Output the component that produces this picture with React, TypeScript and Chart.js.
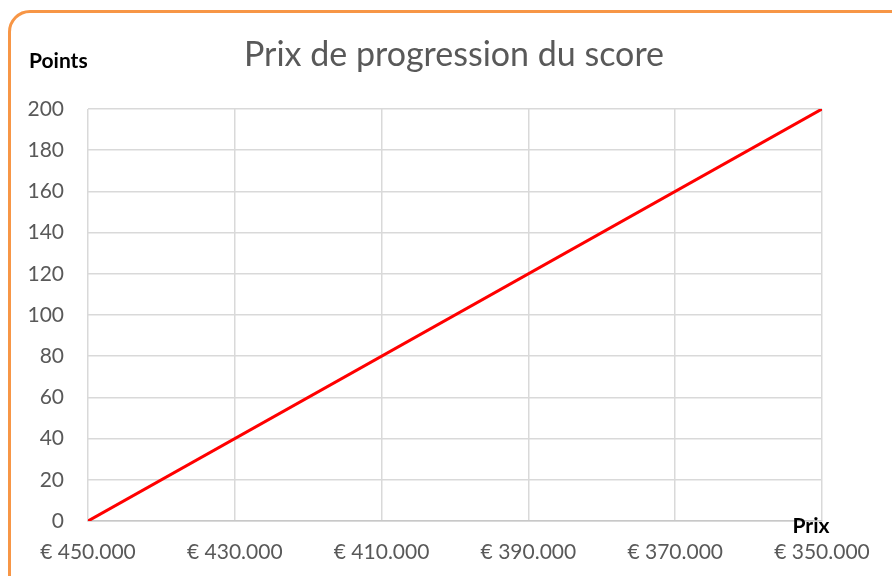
import React, { useEffect, useRef } from "react";
import { Chart, registerables } from "chart.js";

Chart.register(...registerables);

const title = "Prix de progression du score";
const yAxisLabel = "Points";
const xAxisLabel = "Prix";
const prices = [450000, 350000];
const points = [0, 200];

const FONT = "Lato, 'Open Sans', sans-serif";

function formatEuro(v: number): string {
  const s = Math.round(v).toString().replace(/\B(?=(\d{3})+(?!\d))/g, ".");
  return "€ " + s;
}

const labelsPlugin = {
  id: "labelsPlugin",
  afterDraw(chart: any) {
    const ctx = chart.ctx;
    const area = chart.chartArea;
    ctx.save();
    ctx.fillStyle = "#595959";
    ctx.font = `34px ${FONT}`;
    ctx.textAlign = "center";
    ctx.textBaseline = "middle";
    ctx.fillText(title, 454, 55);
    ctx.fillStyle = "#000000";
    ctx.font = `bold 21px ${FONT}`;
    ctx.textAlign = "left";
    ctx.fillText(yAxisLabel, 29, 61);
    ctx.textAlign = "center";
    ctx.fillText(xAxisLabel, area.right - 11, 526);
    ctx.restore();
  },
};

export default function App() {
  const ref = useRef<HTMLCanvasElement>(null);
  useEffect(() => {
    if (!ref.current) return;
    const chart = new Chart(ref.current, {
      type: "line",
      data: {
        datasets: [
          {
            data: prices.map((p, i) => ({ x: p, y: points[i] })),
            borderColor: "#ff0000",
            borderWidth: 3,
            pointRadius: 0,
            fill: false,
            tension: 0,
          },
        ],
      },
      options: {
        animation: false,
        responsive: false,
        maintainAspectRatio: false,
        layout: { padding: { left: 0, right: 70, top: 109, bottom: 0 } },
        plugins: { legend: { display: false }, title: { display: false }, tooltip: { enabled: false } },
        scales: {
          x: {
            type: "linear",
            reverse: true,
            min: 350000,
            max: 450000,
            afterFit: (s: any) => { s.height = 55; },
            grid: { color: "#d9d9d9", lineWidth: 1.5, drawTicks: false },
            border: { color: "#c8c8c8", width: 1.5 },
            ticks: {
              stepSize: 20000,
              padding: 19,
              color: "#595959",
              font: { family: FONT, size: 21 },
              maxRotation: 0,
              callback: (v: any) => formatEuro(Number(v)),
            },
          },
          y: {
            min: 0,
            max: 200,
            afterFit: (s: any) => { s.width = 88; },
            grid: { color: "#d9d9d9", lineWidth: 1.5, drawTicks: false },
            border: { display: false },
            ticks: {
              stepSize: 20,
              padding: 24,
              color: "#595959",
              font: { family: FONT, size: 21 },
            },
          },
        },
      },
      plugins: [labelsPlugin],
    } as any);
    return () => chart.destroy();
  }, []);

  return (
    <div style={{ position: "absolute", left: 0, top: 0, width: 892, height: 576, overflow: "hidden", background: "#fff" }}>
      <div
        style={{
          position: "absolute",
          left: 8,
          top: 10,
          width: 920,
          height: 620,
          border: "3px solid #f79646",
          borderRadius: 22,
          boxSizing: "border-box",
        }}
      />
      <canvas ref={ref} width={892} height={576} style={{ position: "absolute", left: 0, top: 0 }} />
    </div>
  );
}
